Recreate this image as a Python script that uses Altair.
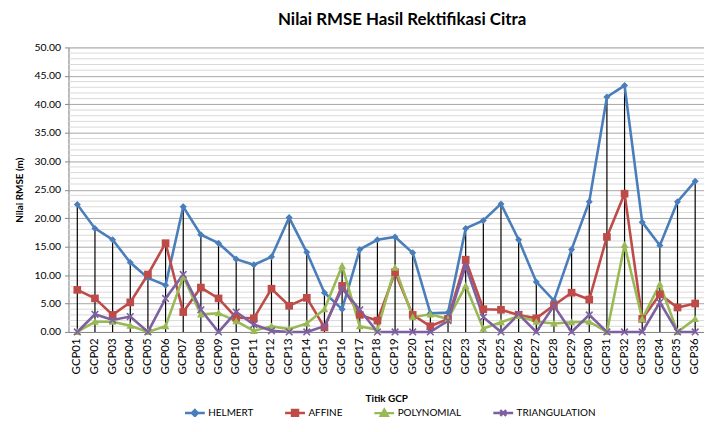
import altair as alt
import pandas as pd

gcp = ["GCP01", "GCP02", "GCP03", "GCP04", "GCP05", "GCP06", "GCP07", "GCP08", "GCP09",
       "GCP10", "GCP11", "GCP12", "GCP13", "GCP14", "GCP15", "GCP16", "GCP17", "GCP18",
       "GCP19", "GCP20", "GCP21", "GCP22", "GCP23", "GCP24", "GCP25", "GCP26", "GCP27",
       "GCP28", "GCP29", "GCP30", "GCP31", "GCP32", "GCP33", "GCP34", "GCP35", "GCP36"]

helmert = [22.4, 18.2, 16.2, 12.2, 9.5, 8.2, 22.0, 17.1, 15.6, 12.8, 11.8, 13.2,
           20.1, 14.0, 6.9, 4.0, 14.5, 16.2, 16.7, 13.9, 3.3, 3.4, 18.2, 19.6,
           22.5, 16.2, 8.8, 5.5, 14.5, 22.9, 41.3, 43.3, 19.3, 15.2, 22.9, 26.5]
affine = [7.4, 5.9, 3.0, 5.2, 10.1, 15.6, 3.5, 7.8, 5.9, 2.5, 2.4, 7.6,
          4.6, 6.0, 0.8, 8.1, 3.0, 2.0, 10.5, 3.0, 1.0, 2.3, 12.7, 4.0,
          3.9, 3.0, 2.4, 4.7, 6.9, 5.7, 16.7, 24.3, 2.3, 6.6, 4.3, 5.0]
polynomial = [0.0, 1.8, 1.8, 1.1, 0.0, 1.0, 9.7, 3.1, 3.3, 1.9, 0.2, 1.0,
              0.5, 1.5, 4.0, 11.6, 1.0, 0.4, 11.3, 2.6, 3.1, 2.3, 8.1, 0.6,
              1.7, 2.8, 1.8, 1.5, 1.7, 1.8, 0.0, 15.3, 2.3, 8.4, 0.0, 2.3]
triangulation = [0.0, 3.1, 2.1, 2.7, 0.0, 5.9, 10.1, 3.9, 0.0, 3.5, 1.3, 0.2,
                 0.0, 0.0, 1.0, 7.6, 3.9, 0.0, 0.0, 0.0, 0.0, 2.0, 11.6, 2.6,
                 0.0, 3.1, 0.0, 4.6, 0.0, 3.0, 0.0, 0.0, 0.0, 5.2, 0.0, 0.0]

series_names = ["HELMERT", "AFFINE", "POLYNOMIAL", "TRIANGULATION"]
series_colors = ["#4a7ebb", "#be4b48", "#98b954", "#7d60a0"]
y_major = [0, 5, 10, 15, 20, 25, 30, 35, 40, 45, 50]
y_minor = [v for v in range(0, 51) if v % 5 != 0]

marker_paths = [
    "M0,-1L1,0L0,1L-1,0Z",
    "M-1,-1H1V1H-1Z",
    "M0,-1L1,0.8H-1Z",
    "M-1,-1L1,1M-1,1L1,-1",
]
marker_sizes = [50, 60, 60, 45]
legend_paths = [
    "M-1,0H1M0,-0.3L0.3,0L0,0.3L-0.3,0Z",
    "M-1,0H1M-0.3,-0.3H0.3V0.3H-0.3Z",
    "M-1,0H1M0,-0.35L0.36,0.28H-0.36Z",
    "M-1,0H1M-0.3,-0.3L0.3,0.3M-0.3,0.3L0.3,-0.3",
]

FONT = "Lato"

rows = []
for name, vals in zip(series_names, [helmert, affine, polynomial, triangulation]):
    for g, v in zip(gcp, vals):
        rows.append({"gcp": g, "series": name, "value": v})
df = pd.DataFrame(rows)

x_axis = alt.Axis(labelAngle=270, labelFontSize=11.5, labelFont=FONT,
                  labelColor="#000", titleFont=FONT, titleFontSize=10,
                  titleFontWeight="bold", titleColor="#000",
                  ticks=False, domainColor="#888", labelPadding=6,
                  titlePadding=20)
y_axis = alt.Axis(values=y_major, format=".2f", grid=True,
                  gridColor="#a6a6a6", gridWidth=1, domainColor="#888",
                  tickColor="#888", tickSize=4, labelFont=FONT,
                  labelFontSize=10.5, labelColor="#000", labelPadding=4,
                  titleFont=FONT, titleFontSize=10, titleFontWeight="bold",
                  titleColor="#000", titlePadding=10)
Y_TITLE = "Nilai RMSE  (m)"
X_TITLE = "Titik GCP"

x_enc = alt.X("gcp:N", sort=gcp, title=X_TITLE, axis=x_axis)
y_scale = alt.Scale(domain=[0, 50], nice=False)
color_scale = alt.Scale(domain=series_names, range=series_colors)


def yq(field):
    return alt.Y(field, scale=y_scale, title=Y_TITLE, axis=y_axis)


base = alt.Chart(df)

minor = alt.Chart(pd.DataFrame({"v": y_minor})).mark_rule(
    color="#d9d9d9", strokeWidth=1).encode(y=yq("v:Q"))

drops = base.transform_aggregate(
    top="max(value)", groupby=["gcp"]
).mark_rule(color="#000", strokeWidth=1.2).encode(
    x=x_enc,
    y=yq("top:Q"),
    y2=alt.datum(0),
)

line_layers = []
point_layers = []
for name, col, path, sz in zip(series_names, series_colors, marker_paths, marker_sizes):
    sub = base.transform_filter(alt.datum.series == name)
    line_layers.append(
        sub.mark_line(strokeWidth=2.6, color=col).encode(x=x_enc, y=yq("value:Q"))
    )
    is_x = name == "TRIANGULATION"
    point_layers.append(
        sub.mark_point(shape=path, filled=not is_x, strokeWidth=1.6, opacity=1,
                       size=sz, color=col).encode(x=x_enc, y=yq("value:Q"))
    )

leg = alt.Legend(
    title=None, orient="none", direction="horizontal",
    legendX=116, legendY=357, symbolSize=400, symbolOpacity=1,
    symbolStrokeWidth=2.5,
    labelFont=FONT, labelFontSize=10, labelColor="#000",
    labelOffset=2, columnPadding=26,
)
legend_layer = base.mark_point(size=0, filled=True).encode(
    x=x_enc,
    y=yq("value:Q"),
    shape=alt.Shape("series:N", scale=alt.Scale(domain=series_names, range=legend_paths),
                    legend=leg),
    fill=alt.Fill("series:N", scale=color_scale, legend=leg),
    stroke=alt.Stroke("series:N", scale=color_scale, legend=leg),
)

chart = alt.layer(minor, drops, *line_layers, *point_layers, legend_layer).properties(
    width=641,
    height=287,
    autosize=alt.AutoSizeParams(type="none"),
    padding={"left": 61, "top": 38, "right": 0, "bottom": 84},
    title=alt.Title("Nilai RMSE Hasil Rektifikasi Citra", font=FONT, fontSize=17,
                    fontWeight="bold", color="#000", anchor="middle", dx=16, offset=14),
).configure_view(stroke=None).configure(background="white")

chart.save("out.html", embed_options={"renderer": "svg", "actions": False})
